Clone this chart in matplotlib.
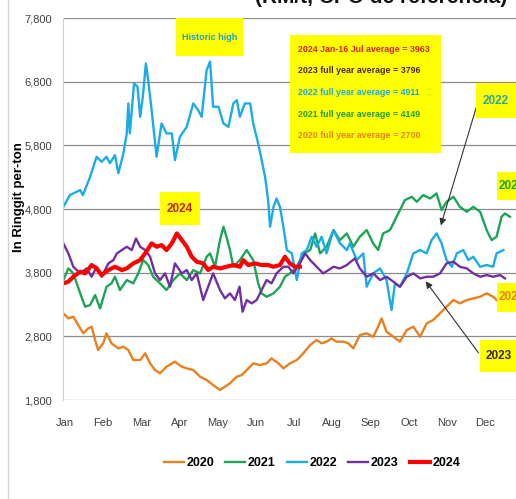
import matplotlib
matplotlib.use("Agg")
import matplotlib.pyplot as plt
from matplotlib.patches import Rectangle
from matplotlib.lines import Line2D

plt.rcParams['font.family'] = ['Liberation Sans', 'DejaVu Sans']

W, H = 516, 499

# months since 1 Jan (x) and price in RM per tonne (y)
x2020 = [0.01, 0.14, 0.27, 0.40, 0.53, 0.66, 0.75, 0.84, 0.92, 1.05, 1.14, 1.27, 1.45, 1.58, 1.71,
         1.84, 2.02, 2.15, 2.28, 2.41, 2.54, 2.71, 2.93, 3.11, 3.24, 3.41, 3.59, 3.76, 3.93, 4.11,
         4.24, 4.37, 4.55, 4.68, 4.81, 4.98, 5.16, 5.33, 5.46, 5.64, 5.77, 5.94, 6.12, 6.29, 6.47,
         6.64, 6.77, 6.90, 7.03, 7.16, 7.34, 7.47, 7.60, 7.77, 7.95, 8.12, 8.25, 8.34, 8.47, 8.65,
         8.82, 9.00, 9.17, 9.35, 9.52, 9.69, 9.87, 10.04, 10.22, 10.39, 10.57, 10.74, 10.92, 11.09,
         11.26, 11.35]
y2020 = [3161, 3082, 3108, 2977, 2847, 2925, 2951, 2742, 2585, 2690, 2847, 2690, 2611, 2637, 2585,
         2428, 2428, 2533, 2375, 2271, 2219, 2323, 2402, 2323, 2297, 2271, 2166, 2114, 2035, 1957,
         2009, 2062, 2166, 2192, 2271, 2375, 2349, 2375, 2454, 2375, 2297, 2375, 2428, 2533, 2663,
         2742, 2690, 2716, 2768, 2716, 2716, 2690, 2611, 2820, 2847, 2794, 2951, 3082, 2872, 2794,
         2716, 2899, 2951, 2794, 3004, 3056, 3161, 3265, 3370, 3318, 3370, 3396, 3422, 3475,
         3422, 3370]

x2021 = [0.01, 0.14, 0.27, 0.45, 0.58, 0.71, 0.84, 0.97, 1.14, 1.27, 1.36, 1.49, 1.67, 1.84, 1.97,
         2.10, 2.23, 2.36, 2.54, 2.71, 2.89, 3.06, 3.24, 3.41, 3.59, 3.76, 3.85, 3.98, 4.11, 4.20,
         4.28, 4.37, 4.46, 4.63, 4.81, 4.98, 5.11, 5.20, 5.33, 5.51, 5.68, 5.81, 5.94, 6.12, 6.29,
         6.47, 6.60, 6.73, 6.90, 7.08, 7.25, 7.43, 7.60, 7.77, 7.95, 8.12, 8.25, 8.38, 8.56, 8.69,
         8.82, 8.95, 9.13, 9.26, 9.43, 9.61, 9.78, 9.91, 10.04, 10.22, 10.39, 10.57, 10.74, 10.92,
         11.09, 11.22, 11.35, 11.48, 11.57, 11.70]
y2021 = [3684, 3867, 3789, 3475, 3265, 3291, 3448, 3239, 3579, 3632, 3736, 3527, 3684, 3632, 3789,
         3998, 3920, 3736, 3632, 3527, 3684, 3789, 3684, 3841, 3789, 4050, 4103, 3893, 4312, 4521,
         4364, 4155, 3893, 3998, 4155, 3998, 3632, 3475, 3422, 3475, 3579, 3736, 3789, 3893, 4103,
         4155, 4416, 4103, 4207, 4469, 4312, 4416, 4207, 4364, 4469, 4260, 4155, 4416, 4469, 4626,
         4783, 4940, 4992, 4913, 5018, 4965, 5045, 4783, 4913, 4992, 4834, 4756, 4834, 4756,
         4469, 4312, 4364, 4678, 4730, 4678]

x2022 = [0.01, 0.18, 0.45, 0.52, 0.71, 0.88, 1.01, 1.14, 1.23, 1.36, 1.45, 1.58, 1.67, 1.71, 1.75,
         1.86, 1.95, 2.02, 2.09, 2.17, 2.23, 2.32, 2.45, 2.58, 2.71, 2.85, 2.93, 3.06, 3.24, 3.41,
         3.54, 3.63, 3.76, 3.85, 3.93, 4.07, 4.20, 4.33, 4.46, 4.55, 4.63, 4.76, 4.90, 4.98, 5.11,
         5.20, 5.29, 5.37, 5.42, 5.51, 5.59, 5.68, 5.77, 5.86, 5.99, 6.12, 6.25, 6.38, 6.51, 6.64,
         6.77, 6.90, 7.08, 7.25, 7.43, 7.51, 7.69, 7.86, 7.95, 8.12, 8.30, 8.47, 8.60, 8.69, 8.82,
         9.00, 9.17, 9.35, 9.52, 9.65, 9.78, 9.91, 10.04, 10.18, 10.31, 10.48, 10.61, 10.74, 10.92,
         11.09, 11.26, 11.35, 11.53]
y2022 = [4834, 5018, 5097, 5018, 5305, 5620, 5541, 5620, 5520, 5646, 5363, 5673, 5987, 6458, 5990,
         6771, 6722, 6248, 6565, 7086, 6823, 6352, 5620, 6143, 5987, 5987, 5568, 5934, 6091, 6458,
         6352, 6248, 6981, 7115, 6406, 6406, 6143, 6091, 6458, 6510, 6248, 6458, 6458, 6143, 5829,
         5568, 5305, 4940, 4521, 4834, 4965, 4834, 4521, 4155, 4103, 3684, 4103, 4155, 4364, 4207,
         4364, 4103, 4469, 4260, 4155, 4260, 3998, 4103, 3579, 3789, 3867, 3684, 3213, 3632, 3579,
         3789, 4103, 4155, 4103, 4312, 4416, 4260, 3998, 3893, 4103, 4155, 3998, 4050, 3893,
         3920, 3893, 4103, 4155]

x2023 = [0.01, 0.14, 0.27, 0.45, 0.62, 0.75, 0.88, 1.01, 1.19, 1.32, 1.41, 1.54, 1.67, 1.80, 1.91,
         2.02, 2.15, 2.28, 2.41, 2.54, 2.67, 2.80, 2.93, 3.11, 3.24, 3.37, 3.50, 3.67, 3.80, 3.93,
         4.11, 4.24, 4.37, 4.50, 4.62, 4.70, 4.81, 4.94, 5.07, 5.20, 5.33, 5.46, 5.59, 5.77, 5.90,
         6.03, 6.20, 6.34, 6.47, 6.64, 6.81, 6.95, 7.08, 7.25, 7.43, 7.64, 7.77, 7.95, 8.12, 8.30,
         8.47, 8.65, 8.82, 9.00, 9.17, 9.35, 9.52, 9.69, 9.87, 10.04, 10.22, 10.39, 10.57, 10.74,
         10.92, 11.09, 11.26, 11.44, 11.57]
y2023 = [4260, 4103, 3893, 3789, 3867, 3736, 3893, 3736, 3946, 3998, 4103, 4155, 4207, 4155, 4338,
         4207, 4155, 4050, 3789, 3684, 3789, 3579, 3946, 3789, 3841, 3684, 3789, 3370, 3579, 3789,
         3527, 3396, 3475, 3370, 3579, 3187, 3370, 3318, 3370, 3527, 3684, 3632, 3789, 3893, 3893,
         3789, 3946, 4103, 3998, 3893, 3789, 3841, 3893, 3867, 3920, 4024, 3867, 3736, 3789, 3684,
         3736, 3658, 3579, 3736, 3789, 3710, 3736, 3736, 3789, 3946, 3972, 3893, 3867, 3789,
         3736, 3762, 3736, 3762, 3710]

x2024 = [0.01, 0.14, 0.27, 0.45, 0.58, 0.75, 0.88, 1.01, 1.19, 1.36, 1.54, 1.67, 1.84, 2.02, 2.15,
         2.32, 2.45, 2.58, 2.71, 2.85, 2.98, 3.11, 3.24, 3.37, 3.50, 3.67, 3.80, 3.93, 4.11, 4.28,
         4.46, 4.63, 4.72, 4.85, 5.03, 5.20, 5.37, 5.51, 5.68, 5.81, 5.94, 6.07, 6.20]
y2024 = [3632, 3658, 3736, 3815, 3789, 3920, 3867, 3762, 3841, 3893, 3841, 3867, 3946, 3998, 4103,
         4260, 4207, 4233, 4155, 4260, 4416, 4312, 4207, 4050, 3972, 3946, 3841, 3893, 3867, 3893,
         3920, 3893, 3998, 3920, 3946, 3920, 3920, 3893, 3920, 4050, 3946, 3893, 3893]

months = ['Jan', 'Feb', 'Mar', 'Apr', 'May', 'Jun', 'Jul', 'Aug', 'Sep', 'Oct', 'Nov', 'Dec']
yticks = [1800, 2800, 3800, 4800, 5800, 6800, 7800]
averages = ['2024 Jan-16 Jul average = 3963', '2023 full year average = 3796',
            '2022 full year average = 4911', '2021 full year average = 4149',
            '2020 full year average = 2700']

c2020, c2021, c2022, c2023, c2024 = '#E8801E', '#1EA456', '#1BACE6', '#7030A0', '#FF0000'


def fx(px):
    return px / W


def fy(py):
    return 1 - py / H


fig = plt.figure(figsize=(W / 100, H / 100), dpi=100)
ax = fig.add_axes([fx(63), fy(400), 12 * 38.2 / W, (400 - 18) / H])

ax.plot(x2020, y2020, color=c2020, lw=1.7, label='2020')
ax.plot(x2021, y2021, color=c2021, lw=1.7, label='2021')
ax.plot(x2022, y2022, color=c2022, lw=1.7, label='2022')
ax.plot(x2023, y2023, color=c2023, lw=1.7, label='2023')
ax.plot(x2024, y2024, color=c2024, lw=3.0, label='2024')

ax.set_xlim(0, 12)
ax.set_ylim(1800, 7800)
ax.set_yticks(yticks)
ax.set_yticklabels([f'{v:,}' for v in yticks])
ax.set_xticks([i + 0.05 for i in range(12)])
ax.set_xticklabels(months)
ax.grid(axis='y', color='#8c8c8c', lw=0.9)
ax.set_axisbelow(True)
ax.tick_params(length=0, labelsize=8, labelcolor='#404040')
ax.tick_params(axis='x', pad=13)
ax.tick_params(axis='y', pad=8)
for s in ['top', 'right', 'bottom']:
    ax.spines[s].set_visible(False)
ax.spines['left'].set_color('#cfcfcf')

fig.text(fx(19), fy(197), 'In Ringgit per-ton', rotation=90, ha='center', va='center',
         fontsize=9.5, fontweight='bold')

# partly cut title at the very top
fig.text(fx(381), fy(3), '(RM/t, CPO de referencia)', ha='center', va='baseline',
         fontsize=15, fontweight='bold', color='#111111')

# outer frame line on the left
fig.add_artist(Line2D([fx(8), fx(8)], [0, 1], transform=fig.transFigure, color='#d4d4d4', lw=1))


def ybox(x0, y0, x1, y1):
    fig.add_artist(Rectangle((fx(x0), fy(y1)), fx(x1) - fx(x0), fy(y0) - fy(y1),
                             transform=fig.transFigure, facecolor='#FFFF00', edgecolor='none',
                             zorder=5))


ybox(176, 18, 243, 56)
fig.text(fx(209.5), fy(37), 'Historic high', ha='center', va='center', fontsize=6.5,
         color='#1E9FD0', fontweight='bold', zorder=6)

ybox(160, 192, 200, 225)
fig.text(fx(180), fy(209), '2024', ha='center', va='center', fontsize=8.5,
         color='#C8200A', fontweight='bold', zorder=6)

ybox(290, 35, 441, 153)
avg_colors = ['#E0200A', '#4A2A20', '#1BACE6', '#1EA030', '#E8801E']
for i, (t, c) in enumerate(zip(averages, avg_colors)):
    fig.text(fx(298), fy(49 + i * 21.7), t, ha='left', va='center', fontsize=6.4,
             color=c, fontweight='bold', zorder=6)

ybox(476, 83, 520, 118)
fig.text(fx(496), fy(101), '2022', ha='center', va='center', fontsize=8.5,
         color='#2AA7A0', fontweight='bold', zorder=6)

ybox(497, 172, 520, 200)
fig.text(fx(499), fy(186), '2021', ha='left', va='center', fontsize=8.5,
         color='#1EA030', fontweight='bold', zorder=6)

ybox(497, 283, 520, 312)
fig.text(fx(499), fy(297), '2020', ha='left', va='center', fontsize=8.5,
         color='#E8801E', fontweight='bold', zorder=6)

ybox(480, 340, 520, 372)
fig.text(fx(499), fy(356), '2023', ha='center', va='center', fontsize=8.5,
         color='#3A2A18', fontweight='bold', zorder=6)

ax.annotate('', xy=(9.87, 4500), xytext=(10.86, 6478),
            arrowprops=dict(arrowstyle='-|>', color='#333333', lw=0.8, mutation_scale=10))
ax.annotate('', xy=(9.45, 3700), xytext=(10.92, 2506),
            arrowprops=dict(arrowstyle='-|>', color='#333333', lw=0.8, mutation_scale=10))

fig.legend(loc='center', bbox_to_anchor=(fx(312), fy(463)), ncol=5, frameon=False,
           handlelength=1.6, handletextpad=0.2, columnspacing=0.9,
           prop={'size': 9, 'weight': 'bold'})

fig.savefig('out.png', dpi=100)
